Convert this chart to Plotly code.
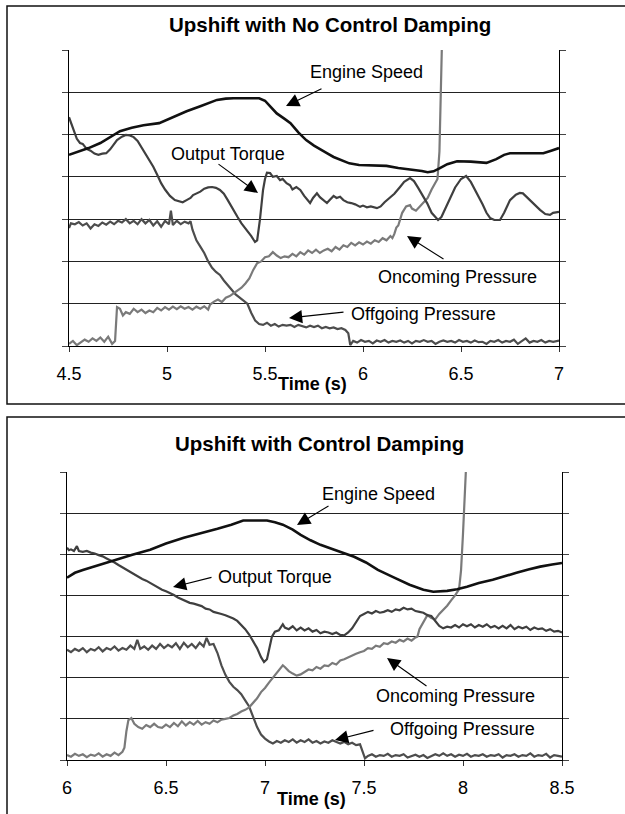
import plotly.graph_objects as go

W, H = 625, 814

# ---------------- Top chart: Upshift with No Control Damping ----------------
top_x_ticks = [4.5, 5, 5.5, 6, 6.5, 7]
top_x_text = ["4.5", "5", "5.5", "6", "6.5", "7"]
y_grid = [0, 1, 2, 3, 4, 5, 6, 7]

top_engine_t = [4.50, 4.55, 4.60, 4.66, 4.71, 4.76, 4.82, 4.88, 4.96, 5.03, 5.10, 5.17, 5.22, 5.255,
                5.30, 5.34, 5.47, 5.50, 5.53, 5.56, 5.60, 5.63, 5.67, 5.71, 5.75, 5.78, 5.82, 5.85,
                5.90, 5.93, 5.98, 6.05, 6.12, 6.18, 6.24, 6.30, 6.33, 6.36, 6.39, 6.43, 6.48, 6.55,
                6.63, 6.68, 6.72, 6.75, 6.85, 6.92, 6.96, 7.0]
top_engine_v = [4.52, 4.60, 4.68, 4.80, 4.95, 5.08, 5.16, 5.22, 5.27, 5.41, 5.55, 5.67, 5.76, 5.82,
                5.85, 5.86, 5.86, 5.80, 5.65, 5.50, 5.37, 5.27, 5.05, 4.87, 4.74, 4.65, 4.55, 4.47,
                4.37, 4.32, 4.28, 4.27, 4.26, 4.21, 4.18, 4.14, 4.11, 4.13, 4.20, 4.30, 4.37, 4.36,
                4.33, 4.42, 4.52, 4.56, 4.56, 4.56, 4.62, 4.68]

top_torque_t = [4.50, 4.52, 4.54, 4.556, 4.57, 4.59, 4.61, 4.63, 4.65, 4.67, 4.69, 4.71, 4.73, 4.745,
                4.77, 4.79, 4.81, 4.83, 4.85, 4.87, 4.89, 4.91, 4.93, 4.95, 4.97, 4.99, 5.015, 5.04,
                5.06, 5.08, 5.10, 5.12, 5.133, 5.15, 5.17, 5.19, 5.21, 5.23, 5.25, 5.27, 5.29, 5.31,
                5.337, 5.36, 5.38, 5.408, 5.43, 5.449, 5.46, 5.474, 5.49, 5.50, 5.51, 5.526, 5.54,
                5.56, 5.577, 5.59, 5.61, 5.628, 5.64, 5.66, 5.68, 5.70, 5.715, 5.73, 5.745, 5.765,
                5.78, 5.80, 5.816, 5.83, 5.85, 5.865, 5.883, 5.90, 5.92, 5.94, 5.96, 5.985, 6.00,
                6.02, 6.04, 6.071, 6.09, 6.11, 6.138, 6.16, 6.189, 6.21, 6.24, 6.26, 6.28, 6.30,
                6.327, 6.35, 6.383, 6.40, 6.42, 6.444, 6.47, 6.50, 6.526, 6.55, 6.582, 6.61, 6.63,
                6.648, 6.67, 6.699, 6.72, 6.75, 6.78, 6.80, 6.816, 6.84, 6.87, 6.903, 6.93, 6.954,
                6.97, 7.0]
top_torque_v = [5.41, 5.15, 4.90, 4.80, 4.78, 4.66, 4.62, 4.55, 4.52, 4.55, 4.56, 4.65, 4.78, 4.87,
                4.95, 4.99, 4.98, 4.94, 4.85, 4.70, 4.55, 4.40, 4.24, 4.05, 3.85, 3.70, 3.55, 3.45,
                3.42, 3.40, 3.45, 3.50, 3.57, 3.60, 3.65, 3.72, 3.75, 3.76, 3.74, 3.69, 3.60, 3.45,
                3.22, 3.05, 2.90, 2.74, 2.60, 2.46, 2.50, 2.98, 3.69, 3.95, 4.10, 4.09, 4.00,
                4.02, 3.92, 3.95, 3.85, 3.80, 3.70, 3.76, 3.69, 3.55, 3.45, 3.38, 3.50, 3.61,
                3.52, 3.45, 3.38, 3.45, 3.55, 3.50, 3.53, 3.45, 3.40, 3.38, 3.35, 3.29, 3.32,
                3.28, 3.30, 3.26, 3.30, 3.40, 3.50, 3.60, 3.76, 3.88, 3.97, 3.90, 3.75, 3.60,
                3.38, 3.15, 2.98, 3.05, 3.25, 3.45, 3.75, 3.95, 4.02, 3.88, 3.61, 3.35, 3.15,
                3.03, 2.98, 2.98, 3.15, 3.45, 3.58, 3.62, 3.61, 3.50, 3.35, 3.22, 3.12, 3.10,
                3.15, 3.17]

top_oncoming_t = [4.50, 4.52, 4.54, 4.56, 4.58, 4.60, 4.62, 4.64, 4.66, 4.68, 4.70, 4.72, 4.735, 4.745,
                  4.76, 4.775, 4.79, 4.81, 4.83, 4.85, 4.87, 4.89, 4.91, 4.93, 4.95, 4.97, 4.99, 5.01,
                  5.03, 5.05, 5.07, 5.09, 5.11, 5.13, 5.15, 5.17, 5.19, 5.21, 5.22, 5.24, 5.26, 5.28,
                  5.30, 5.32, 5.34, 5.36, 5.38, 5.40, 5.42, 5.44, 5.46, 5.48, 5.50, 5.52, 5.54, 5.56,
                  5.58, 5.60, 5.62, 5.64, 5.66, 5.68, 5.70, 5.72, 5.74, 5.76, 5.78, 5.80, 5.82, 5.84,
                  5.86, 5.88, 5.90, 5.92, 5.94, 5.96, 5.98, 6.00, 6.02, 6.04, 6.06, 6.08, 6.10, 6.12,
                  6.14, 6.15, 6.16, 6.17, 6.18, 6.19, 6.20, 6.22, 6.24, 6.25, 6.27, 6.29, 6.31, 6.33,
                  6.35, 6.37, 6.38, 6.39, 6.395, 6.40, 6.405]
top_oncoming_v = [0.05, 0.12, 0.02, 0.08, 0.15, 0.10, 0.18, 0.12, 0.20, 0.10, 0.22, 0.05, 0.12, 0.92,
                  0.88, 0.72, 0.80, 0.76, 0.88, 0.80, 0.86, 0.78, 0.84, 0.80, 0.90, 0.84, 0.92, 0.86,
                  0.93, 0.87, 0.94, 0.88, 0.92, 0.86, 0.93, 0.88, 0.94, 0.86, 0.98, 1.05, 1.10, 1.04,
                  1.14, 1.18, 1.25, 1.30, 1.38, 1.48, 1.60, 1.80, 1.96, 2.00, 2.10, 2.12, 2.22, 2.14,
                  2.08, 2.12, 2.10, 2.18, 2.12, 2.22, 2.16, 2.26, 2.20, 2.28, 2.20, 2.26, 2.30, 2.24,
                  2.34, 2.28, 2.38, 2.34, 2.44, 2.38, 2.45, 2.40, 2.47, 2.42, 2.50, 2.46, 2.55, 2.50,
                  2.60, 2.55, 2.65, 2.80, 2.85, 3.00, 3.15, 3.30, 3.33, 3.25, 3.20, 3.30, 3.40, 3.50,
                  3.70, 3.85, 3.95, 4.60, 5.60, 6.60, 7.60]

top_offgoing_t = [4.50, 4.51, 4.53, 4.55, 4.57, 4.59, 4.61, 4.63, 4.65, 4.67, 4.69, 4.71, 4.73, 4.75,
                  4.77, 4.79, 4.81, 4.83, 4.85, 4.87, 4.89, 4.91, 4.93, 4.95, 4.97, 4.99, 5.01, 5.02,
                  5.03, 5.05, 5.07, 5.09, 5.11, 5.12, 5.13, 5.15, 5.17, 5.19, 5.21, 5.23, 5.25, 5.27,
                  5.29, 5.31, 5.33, 5.35, 5.37, 5.39, 5.41, 5.43, 5.45, 5.47, 5.49, 5.51, 5.53, 5.55,
                  5.57, 5.59, 5.61, 5.63, 5.65, 5.67, 5.69, 5.71, 5.73, 5.75, 5.77, 5.79, 5.81, 5.83,
                  5.85, 5.87, 5.89, 5.91, 5.925, 5.935, 5.95, 5.97, 5.99, 6.01, 6.03, 6.05, 6.07, 6.09,
                  6.11, 6.13, 6.15, 6.17, 6.19, 6.21, 6.23, 6.25, 6.27, 6.29, 6.31, 6.33, 6.35, 6.37,
                  6.39, 6.41, 6.43, 6.45, 6.47, 6.49, 6.51, 6.53, 6.55, 6.57, 6.59, 6.61, 6.63, 6.65,
                  6.67, 6.69, 6.71, 6.73, 6.75, 6.77, 6.79, 6.81, 6.83, 6.85, 6.87, 6.89, 6.91, 6.93,
                  6.95, 6.97, 7.0]
top_offgoing_v = [2.79, 2.90, 2.88, 2.93, 2.85, 2.90, 2.78, 2.88, 2.84, 2.92, 2.87, 2.94, 2.88, 2.96,
                  2.92, 3.00, 2.90, 2.96, 2.88, 3.00, 2.90, 2.98, 2.85, 2.95, 2.82, 2.96, 2.88, 3.20,
                  2.86, 2.96, 2.88, 2.94, 2.90, 2.95, 2.75, 2.50, 2.35, 2.20, 2.00, 1.85, 1.75, 1.68,
                  1.55, 1.45, 1.33, 1.22, 1.15, 1.08, 1.00, 0.78, 0.60, 0.52, 0.50, 0.55, 0.48, 0.52,
                  0.46, 0.50, 0.48, 0.50, 0.45, 0.50, 0.47, 0.44, 0.48, 0.45, 0.48, 0.42, 0.45, 0.42,
                  0.44, 0.40, 0.42, 0.38, 0.30, 0.02, 0.12, 0.08, 0.14, 0.10, 0.12, 0.06, 0.13, 0.10,
                  0.14, 0.08, 0.12, 0.10, 0.13, 0.08, 0.12, 0.06, 0.12, 0.10, 0.14, 0.10, 0.12, 0.05,
                  0.10, 0.13, 0.10, 0.12, 0.08, 0.14, 0.10, 0.12, 0.08, 0.13, 0.09, 0.10, 0.05, 0.12,
                  0.10, 0.14, 0.08, 0.12, 0.10, 0.15, 0.05, 0.12, 0.18, 0.08, 0.12, 0.10, 0.14, 0.08,
                  0.12, 0.10, 0.13]

# ---------------- Bottom chart: Upshift with Control Damping ----------------
bot_x_ticks = [6, 6.5, 7, 7.5, 8, 8.5]
bot_x_text = ["6", "6.5", "7", "7.5", "8", "8.5"]

bot_engine_t = [6.0, 6.04, 6.08, 6.12, 6.17, 6.25, 6.33, 6.42, 6.50, 6.59, 6.67, 6.76, 6.83, 6.89,
                6.95, 7.01, 7.05, 7.09, 7.14, 7.18, 7.23, 7.28, 7.35, 7.45, 7.51, 7.57, 7.65, 7.73,
                7.80, 7.85, 7.92, 7.97, 8.02, 8.08, 8.15, 8.21, 8.27, 8.33, 8.39, 8.45, 8.5]
bot_engine_v = [4.43, 4.55, 4.62, 4.68, 4.74, 4.86, 4.99, 5.11, 5.26, 5.40, 5.50, 5.62, 5.72, 5.82,
                5.82, 5.82, 5.78, 5.72, 5.60, 5.47, 5.34, 5.23, 5.11, 4.94, 4.80, 4.62, 4.44, 4.26,
                4.14, 4.09, 4.11, 4.15, 4.21, 4.30, 4.38, 4.47, 4.55, 4.63, 4.70, 4.75, 4.79]

bot_torque_t = [6.00, 6.01, 6.02, 6.035, 6.05, 6.06, 6.08, 6.10, 6.12, 6.14, 6.16, 6.18, 6.20, 6.22,
                6.24, 6.26, 6.28, 6.30, 6.32, 6.34, 6.36, 6.38, 6.40, 6.42, 6.44, 6.46, 6.48, 6.50,
                6.52, 6.54, 6.56, 6.58, 6.60, 6.62, 6.64, 6.66, 6.68, 6.70, 6.72, 6.74, 6.76, 6.78,
                6.80, 6.82, 6.84, 6.86, 6.88, 6.90, 6.92, 6.94, 6.96, 6.98, 6.995, 7.01, 7.02, 7.035,
                7.05, 7.07, 7.09, 7.10, 7.12, 7.14, 7.16, 7.18, 7.20, 7.22, 7.24, 7.26, 7.28, 7.30,
                7.32, 7.34, 7.36, 7.38, 7.40, 7.42, 7.44, 7.46, 7.48, 7.50, 7.52, 7.54, 7.56, 7.58,
                7.60, 7.62, 7.64, 7.66, 7.68, 7.70, 7.72, 7.74, 7.76, 7.78, 7.80, 7.82, 7.84, 7.86,
                7.88, 7.90, 7.92, 7.94, 7.96, 7.98, 8.00, 8.02, 8.04, 8.06, 8.08, 8.10, 8.12, 8.14,
                8.16, 8.18, 8.20, 8.22, 8.24, 8.26, 8.28, 8.30, 8.32, 8.34, 8.36, 8.38, 8.40, 8.42,
                8.44, 8.46, 8.48, 8.50]
bot_torque_v = [5.16, 5.10, 5.12, 5.08, 5.20, 5.08, 5.06, 5.08, 5.04, 5.02, 4.98, 4.95, 4.90, 4.86,
                4.80, 4.74, 4.68, 4.63, 4.58, 4.52, 4.46, 4.40, 4.36, 4.30, 4.25, 4.20, 4.14, 4.10,
                4.06, 4.01, 3.95, 3.90, 3.86, 3.82, 3.80, 3.76, 3.74, 3.68, 3.66, 3.60, 3.58, 3.55,
                3.52, 3.48, 3.44, 3.38, 3.28, 3.18, 3.05, 2.90, 2.72, 2.50, 2.38, 2.45, 2.70, 3.00,
                3.12, 3.15, 3.30, 3.22, 3.18, 3.25, 3.15, 3.22, 3.15, 3.20, 3.12, 3.16, 3.08, 3.12,
                3.10, 3.06, 3.10, 3.04, 3.03, 3.10, 3.20, 3.35, 3.50, 3.55, 3.60, 3.56, 3.62, 3.58,
                3.60, 3.64, 3.60, 3.66, 3.64, 3.70, 3.66, 3.68, 3.62, 3.60, 3.58, 3.52, 3.50, 3.38,
                3.26, 3.20, 3.24, 3.22, 3.28, 3.22, 3.30, 3.25, 3.30, 3.22, 3.28, 3.24, 3.30, 3.22,
                3.26, 3.20, 3.26, 3.20, 3.28, 3.18, 3.24, 3.20, 3.24, 3.16, 3.22, 3.18, 3.20, 3.14,
                3.18, 3.12, 3.14, 3.10]

bot_oncoming_t = [6.00, 6.02, 6.04, 6.06, 6.08, 6.10, 6.12, 6.14, 6.16, 6.18, 6.20, 6.22, 6.24, 6.26,
                  6.28, 6.29, 6.30, 6.31, 6.325, 6.34, 6.36, 6.38, 6.40, 6.42, 6.44, 6.46, 6.48, 6.50,
                  6.52, 6.54, 6.56, 6.58, 6.60, 6.62, 6.64, 6.66, 6.68, 6.70, 6.72, 6.74, 6.76, 6.78,
                  6.80, 6.82, 6.84, 6.86, 6.88, 6.90, 6.92, 6.94, 6.96, 6.98, 7.00, 7.02, 7.04, 7.06,
                  7.08, 7.09, 7.10, 7.12, 7.14, 7.16, 7.18, 7.20, 7.22, 7.24, 7.26, 7.28, 7.30, 7.32,
                  7.34, 7.36, 7.38, 7.40, 7.42, 7.44, 7.46, 7.48, 7.50, 7.52, 7.54, 7.56, 7.58, 7.60,
                  7.62, 7.64, 7.66, 7.68, 7.70, 7.72, 7.74, 7.76, 7.77, 7.78, 7.80, 7.82, 7.84, 7.86,
                  7.88, 7.90, 7.92, 7.94, 7.96, 7.98, 7.99, 8.00, 8.01, 8.02]
bot_oncoming_v = [0.12, 0.08, 0.15, 0.10, 0.14, 0.07, 0.13, 0.10, 0.16, 0.08, 0.14, 0.10, 0.18, 0.12,
                  0.20, 0.30, 0.70, 0.97, 1.02, 0.88, 0.80, 0.76, 0.85, 0.80, 0.88, 0.80, 0.78, 0.86,
                  0.80, 0.90, 0.82, 0.94, 0.84, 0.92, 0.86, 0.95, 0.86, 0.92, 0.88, 0.96, 0.92, 0.98,
                  1.00, 1.02, 1.08, 1.12, 1.18, 1.22, 1.28, 1.38, 1.50, 1.65, 1.75, 1.88, 2.00, 2.12,
                  2.25, 2.30, 2.26, 2.16, 2.10, 2.05, 2.08, 2.15, 2.20, 2.18, 2.26, 2.22, 2.30, 2.28,
                  2.36, 2.32, 2.42, 2.45, 2.50, 2.55, 2.58, 2.62, 2.65, 2.72, 2.70, 2.78, 2.75, 2.84,
                  2.82, 2.88, 2.85, 2.92, 2.88, 2.95, 2.90, 2.98, 3.00, 3.18, 3.35, 3.52, 3.45, 3.42,
                  3.55, 3.65, 3.75, 3.88, 4.00, 4.15, 4.60, 5.50, 6.50, 7.60]

bot_offgoing_t = [6.00, 6.02, 6.04, 6.06, 6.08, 6.10, 6.12, 6.14, 6.16, 6.18, 6.20, 6.22, 6.24, 6.26,
                  6.28, 6.30, 6.32, 6.34, 6.355, 6.37, 6.39, 6.41, 6.43, 6.45, 6.47, 6.49, 6.51, 6.53,
                  6.55, 6.57, 6.59, 6.61, 6.63, 6.65, 6.67, 6.69, 6.705, 6.72, 6.74, 6.76, 6.78, 6.80,
                  6.82, 6.84, 6.86, 6.88, 6.90, 6.92, 6.94, 6.96, 6.98, 7.00, 7.02, 7.04, 7.06, 7.08,
                  7.10, 7.12, 7.14, 7.16, 7.18, 7.20, 7.22, 7.24, 7.26, 7.28, 7.30, 7.32, 7.34, 7.36,
                  7.38, 7.40, 7.42, 7.44, 7.46, 7.48, 7.495, 7.505, 7.52, 7.54, 7.56, 7.58, 7.60, 7.62,
                  7.64, 7.66, 7.68, 7.70, 7.72, 7.74, 7.76, 7.78, 7.80, 7.82, 7.84, 7.86, 7.88, 7.90,
                  7.92, 7.94, 7.96, 7.98, 8.00, 8.02, 8.04, 8.06, 8.08, 8.10, 8.12, 8.14, 8.16, 8.18,
                  8.20, 8.22, 8.24, 8.26, 8.28, 8.30, 8.32, 8.34, 8.36, 8.38, 8.40, 8.42, 8.44, 8.46,
                  8.48, 8.50]
bot_offgoing_v = [2.68, 2.62, 2.70, 2.65, 2.72, 2.62, 2.70, 2.66, 2.74, 2.64, 2.72, 2.68, 2.76, 2.66,
                  2.72, 2.68, 2.78, 2.70, 2.92, 2.70, 2.76, 2.68, 2.78, 2.70, 2.82, 2.72, 2.80, 2.74,
                  2.84, 2.70, 2.85, 2.74, 2.82, 2.72, 2.85, 2.76, 2.97, 2.80, 2.82, 2.60, 2.30, 2.07,
                  1.90, 1.78, 1.70, 1.60, 1.45, 1.30, 1.05, 0.80, 0.62, 0.52, 0.45, 0.40, 0.46, 0.42,
                  0.48, 0.44, 0.50, 0.42, 0.48, 0.44, 0.50, 0.42, 0.46, 0.40, 0.45, 0.42, 0.48, 0.44,
                  0.40, 0.44, 0.38, 0.42, 0.36, 0.38, 0.20, 0.04, 0.10, 0.14, 0.08, 0.12, 0.10, 0.15,
                  0.08, 0.12, 0.10, 0.14, 0.06, 0.10, 0.13, 0.08, 0.12, 0.05, 0.10, 0.14, 0.10, 0.16,
                  0.10, 0.14, 0.08, 0.13, 0.10, 0.15, 0.08, 0.12, 0.10, 0.14, 0.08, 0.12, 0.10, 0.14,
                  0.06, 0.12, 0.10, 0.14, 0.08, 0.12, 0.10, 0.16, 0.08, 0.12, 0.10, 0.15, 0.06, 0.12,
                  0.10, 0.08]

# ---------------- styling ----------------
FONT = "Liberation Sans, Arial, sans-serif"
C_ENGINE = "#111111"
C_TORQUE = "#3f3f3f"
C_OFF = "#4d4d4d"
C_ON = "#7a7a7a"

fig = go.Figure()


def add_line(t, v, color, width, xa, ya):
    fig.add_trace(go.Scatter(x=t, y=v, mode="lines", line=dict(color=color, width=width),
                             xaxis=xa, yaxis=ya, showlegend=False, hoverinfo="skip"))


for xa, ya, on, off, tq, en in [
    ("x", "y", (top_oncoming_t, top_oncoming_v), (top_offgoing_t, top_offgoing_v),
     (top_torque_t, top_torque_v), (top_engine_t, top_engine_v)),
    ("x2", "y2", (bot_oncoming_t, bot_oncoming_v), (bot_offgoing_t, bot_offgoing_v),
     (bot_torque_t, bot_torque_v), (bot_engine_t, bot_engine_v)),
]:
    add_line(*off, C_OFF, 2.2, xa, ya)
    add_line(*on, C_ON, 2.2, xa, ya)
    add_line(*tq, C_TORQUE, 2.2, xa, ya)
    add_line(*en, C_ENGINE, 2.6, xa, ya)


def px(xp):
    return xp / W


def py(yp):
    return 1 - yp / H


xcommon = dict(showgrid=False, zeroline=False, showline=True, linecolor="#000", linewidth=1,
               ticks="outside", ticklen=5, tickcolor="#333", ticklabelstandoff=6, automargin=False,
               tickfont=dict(family=FONT, size=18, color="#000"))
ycommon = dict(range=[0, 7], tickvals=y_grid, showticklabels=False, showgrid=True,
               gridcolor="#222", gridwidth=1, zeroline=False, showline=True, linecolor="#000",
               linewidth=1, ticks="outside", ticklen=6, tickcolor="#444", mirror="ticks",
               automargin=False)

fig.update_layout(
    template="none",
    width=W, height=H, margin=dict(l=0, r=0, t=0, b=0, pad=0, autoexpand=False),
    paper_bgcolor="white", plot_bgcolor="white", showlegend=False,
    xaxis=dict(domain=[px(69), px(559)], range=[4.5, 7], tickvals=top_x_ticks,
               ticktext=top_x_text, anchor="y", **xcommon),
    yaxis=dict(domain=[py(346), py(50)], anchor="x", **ycommon),
    xaxis2=dict(domain=[px(67), px(562)], range=[6, 8.5], tickvals=bot_x_ticks,
                ticktext=bot_x_text, anchor="y2", **xcommon),
    yaxis2=dict(domain=[py(760), py(472)], anchor="x2", **ycommon),
)

# outer frames
fig.add_shape(type="rect", xref="paper", yref="paper", x0=px(7), x1=1.05, y0=py(404), y1=py(6),
              line=dict(color="#111", width=1.5), layer="below")
fig.add_shape(type="rect", xref="paper", yref="paper", x0=px(7), x1=1.05, y0=-0.05, y1=py(417),
              line=dict(color="#111", width=1.5), layer="below")

# titles and axis titles
texts = [
    ("Upshift with No Control Damping", 330, 24, 20.5, True),
    ("Upshift with Control Damping", 319, 443, 20.5, True),
    ("Time (s)", 312, 384, 18, True),
    ("Time (s)", 311, 799, 18, True),
    ("Engine Speed", 366, 72, 18, False),
    ("Output Torque", 228, 154, 18, False),
    ("Oncoming Pressure", 457, 277, 18, False),
    ("Offgoing Pressure", 423, 314, 18, False),
    ("Engine Speed", 378, 494, 18, False),
    ("Output Torque", 275, 577, 18, False),
    ("Oncoming Pressure", 455, 696, 18, False),
    ("Offgoing Pressure", 462, 729, 18, False),
]
for txt, xx, yy, sz, bold in texts:
    fig.add_annotation(text=f"<b>{txt}</b>" if bold else txt, xref="paper", yref="paper",
                       x=px(xx), y=py(yy), xanchor="center", yanchor="middle", showarrow=False,
                       font=dict(family=FONT, size=sz, color="#000"))

# arrows: (tip x, tip y, tail x, tail y) in pixels
arrows = [
    (286, 106, 323, 88),
    (258, 193, 217, 163),
    (407, 236, 445, 260),
    (289, 318, 345, 312),
    (297, 525, 330, 505),
    (173, 587, 213, 577),
    (387, 658, 428, 687),
    (335, 740, 375, 730),
]
for hx, hy, tx, ty in arrows:
    fig.add_annotation(text="", xref="paper", yref="paper", x=px(hx), y=py(hy),
                       axref="pixel", ayref="pixel", ax=tx - hx, ay=ty - hy,
                       showarrow=True, arrowhead=2, arrowsize=2.4, arrowwidth=1.1,
                       arrowcolor="#000")

fig.write_html("out.html", config={"displayModeBar": False, "staticPlot": True},
               post_script="document.body.style.margin='0';")
